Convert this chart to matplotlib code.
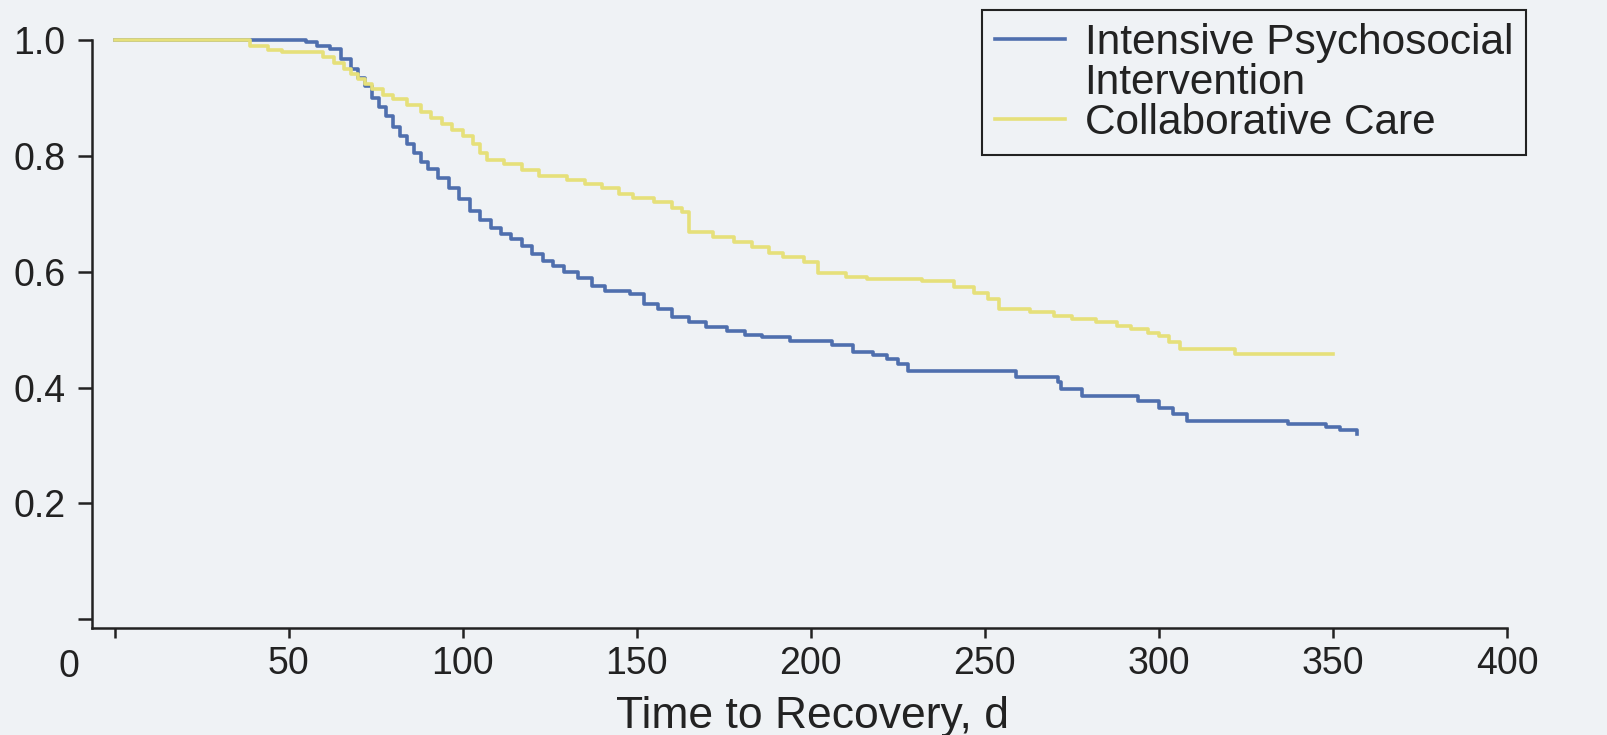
import matplotlib
matplotlib.use('Agg')
from matplotlib import pyplot as plt
from matplotlib.lines import Line2D

plt.rcParams['font.family'] = ['Liberation Sans', 'DejaVu Sans']

# Intensive Psychosocial Intervention (step curve)
ipi_days = [0, 55, 58, 62, 65, 68, 70, 72, 74, 76, 78, 80, 82, 84, 86, 88, 90, 93,
            96, 99, 102, 105, 108, 111, 114, 117, 120, 123, 126, 129, 133, 137,
            141, 148, 152, 156, 160, 165, 170, 176, 181, 186, 194, 206, 212, 218,
            222, 225, 228, 259, 271, 272, 278, 294, 300, 304, 308, 337, 348, 352, 357]
ipi_surv = [1.0, 0.996, 0.99, 0.984, 0.967, 0.95, 0.935, 0.92, 0.90, 0.885, 0.868,
            0.85, 0.834, 0.82, 0.805, 0.79, 0.777, 0.762, 0.745, 0.725, 0.705, 0.69,
            0.675, 0.665, 0.657, 0.645, 0.63, 0.618, 0.61, 0.60, 0.59, 0.575, 0.566,
            0.562, 0.545, 0.535, 0.522, 0.513, 0.505, 0.497, 0.49, 0.487, 0.481,
            0.473, 0.462, 0.457, 0.45, 0.44, 0.428, 0.419, 0.41, 0.397, 0.386,
            0.376, 0.364, 0.355, 0.343, 0.337, 0.332, 0.326, 0.319]

# Collaborative Care
cc_days = [0, 39, 44, 48, 60, 63, 66, 68, 70, 72, 74, 77, 80, 84, 88, 91, 94, 97,
           100, 103, 105, 107, 112, 117, 122, 130, 135, 140, 145, 149, 155, 160,
           163, 165, 172, 178, 183, 188, 192, 198, 202, 210, 216, 232, 241, 247,
           251, 254, 263, 270, 275, 282, 288, 292, 297, 300, 303, 306, 322, 350]
cc_surv = [1.0, 0.99, 0.983, 0.979, 0.97, 0.96, 0.95, 0.942, 0.933, 0.924, 0.915,
           0.905, 0.898, 0.888, 0.875, 0.865, 0.855, 0.845, 0.835, 0.82, 0.805,
           0.792, 0.786, 0.776, 0.766, 0.758, 0.752, 0.745, 0.735, 0.727, 0.72,
           0.71, 0.703, 0.668, 0.66, 0.651, 0.643, 0.633, 0.625, 0.617, 0.598,
           0.591, 0.587, 0.584, 0.573, 0.563, 0.553, 0.536, 0.53, 0.524, 0.518,
           0.513, 0.507, 0.501, 0.495, 0.489, 0.478, 0.466, 0.458, 0.458]

xticks = [0, 50, 100, 150, 200, 250, 300, 350, 400]
xtick_labels = ['', '50', '100', '150', '200', '250', '300', '350', '400']
yticks = [0.0, 0.2, 0.4, 0.6, 0.8, 1.0]
ytick_labels = ['', '0.2', '0.4', '0.6', '0.8', '1.0']

bg = '#eff2f5'
ink = '#222222'
blue = '#4f6fae'
yellow = '#e6e07a'

fig = plt.figure(figsize=(16.08, 7.35), dpi=100, facecolor=bg)
ax = fig.add_axes([0.0572, 0.1456, 0.8800, 0.8000])
ax.set_facecolor(bg)

ax.step(ipi_days, ipi_surv, where='post', color=blue, lw=2.6, zorder=3, clip_on=False)
ax.step(cc_days, cc_surv, where='post', color=yellow, lw=2.6, zorder=4, clip_on=False)

ax.set_xlim(-6.5, 400)
ax.set_ylim(-0.015, 1.0)
ax.set_xticks(xticks)
ax.set_xticklabels(xtick_labels)
ax.set_yticks(yticks)
ax.set_yticklabels(ytick_labels)

for s in ['top', 'right']:
    ax.spines[s].set_visible(False)
for s in ['left', 'bottom']:
    ax.spines[s].set_color(ink)
    ax.spines[s].set_linewidth(1.8)

ax.tick_params(axis='x', length=7, width=1.8, color=ink, labelsize=27,
               labelcolor=ink, pad=6)
ax.tick_params(axis='y', length=10, width=1.8, color=ink, labelsize=27,
               labelcolor=ink, pad=9)

ax.set_xlabel('Time to Recovery, d', fontsize=32, color=ink)
ax.xaxis.set_label_coords(0.509, -0.115)
fig.text(69 / 1608, 1 - 667 / 735, '0', fontsize=27, color=ink,
         ha='center', va='center')

handles = [Line2D([], [], color=blue, lw=2.6),
           Line2D([], [], color='none'),
           Line2D([], [], color=yellow, lw=2.6)]
labels = ['Intensive Psychosocial', 'Intervention', 'Collaborative Care']
leg = fig.legend(handles, labels, loc='upper left', bbox_to_anchor=(0.6107, 0.9864),
                 fontsize=30.5, frameon=True, fancybox=False, edgecolor=ink,
                 facecolor=bg, framealpha=1, handlelength=1.65, handletextpad=0.47,
                 labelspacing=0.0, borderpad=0.3, borderaxespad=0)
leg.get_frame().set_linewidth(1.5)
for t in leg.get_texts():
    t.set_color(ink)

fig.savefig('out.png', dpi=100, facecolor=bg)
